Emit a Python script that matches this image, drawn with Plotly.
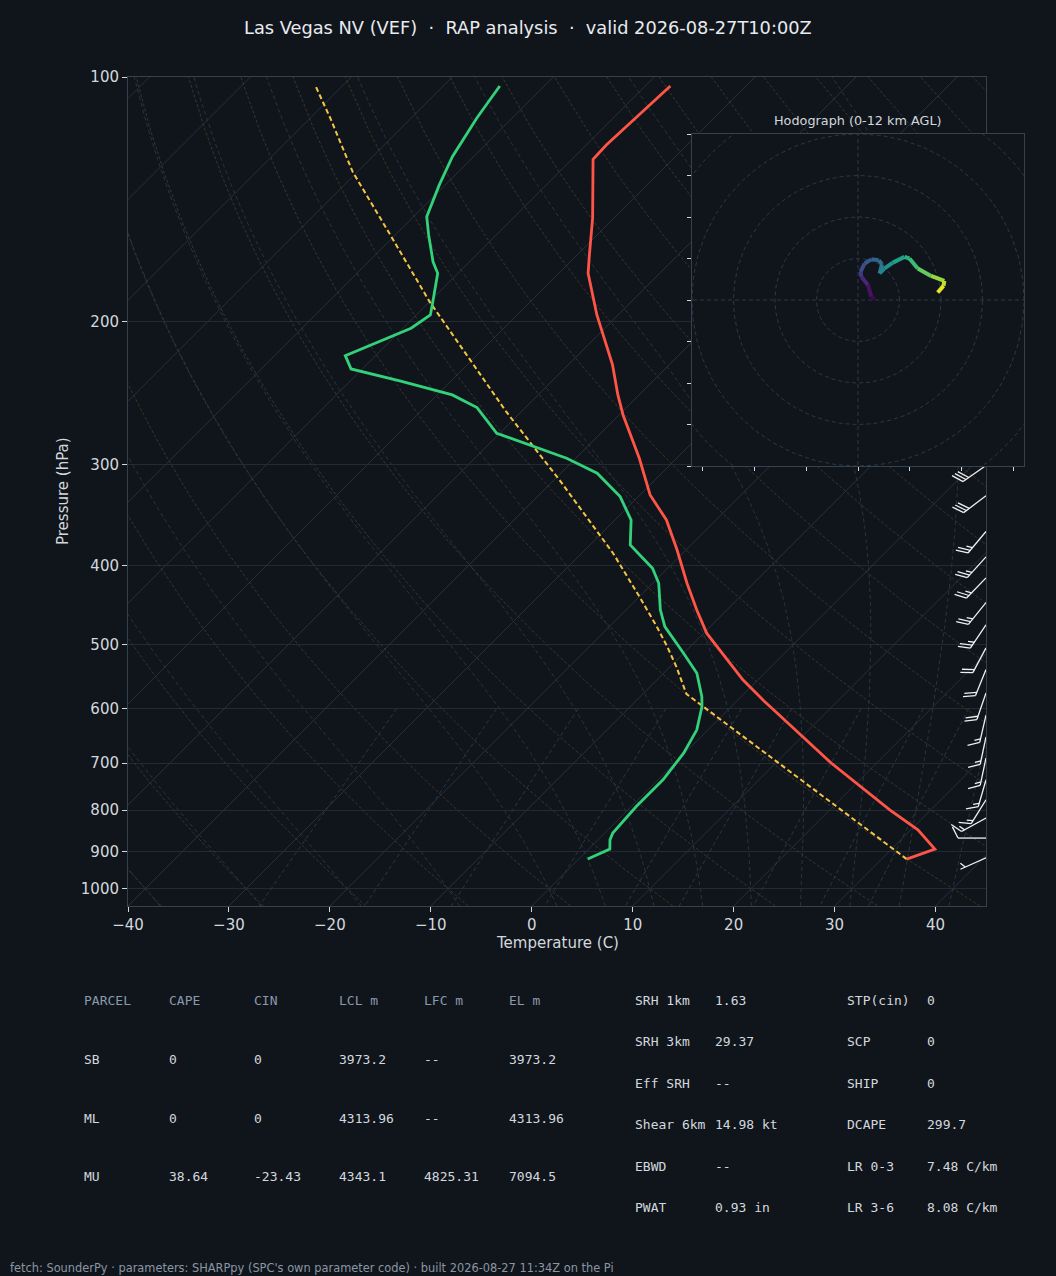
import numpy as np
import plotly.graph_objects as go
from plotly.colors import sample_colorscale

# ---------------------------------------------------------------- data
title_text = "Las Vegas NV (VEF)  \u00b7  RAP analysis  \u00b7  valid 2026-08-27T10:00Z"
footer_text = ("fetch: SounderPy \u00b7 parameters: SHARPpy (SPC's own parameter code) "
               "\u00b7 built 2026-08-27 11:34Z on the Pi")
hodo_title = "Hodograph (0-12 km AGL)"

# environmental temperature (hPa, degC)
temp_p = [102.6, 121.3, 126.3, 149.3, 165.6, 174.5, 196.4, 226.3, 246.4, 260.8,
          294.9, 327.2, 351.3, 382.3, 420.3, 453.3, 484.3, 517.5, 552.7, 587.9,
          600.0, 700.0, 800.0, 845.8, 870.5, 893.6, 919.2]
temp_c = [-67.5, -68.0, -67.9, -62.1, -58.8, -57.1, -52.1, -45.6, -42.1, -39.6,
          -33.7, -29.0, -24.9, -20.9, -16.6, -13.0, -9.7, -5.6, -1.5, 2.8,
          4.3, 15.5, 26.0, 30.7, 32.6, 34.3, 32.5]

# dewpoint (hPa, degC)
dewp_p = [102.6, 112.4, 125.3, 135.8, 148.6, 156.5, 168.9, 174.5, 190.9, 196.4,
          203.9, 220.4, 228.9, 236.8, 246.4, 255.4, 274.7, 294.9, 307.6, 328.8,
          351.3, 377.2, 402.8, 420.3, 453.3, 475.3, 512.7, 542.6, 579.7, 596.3,
          637.1, 680.6, 734.1, 792.0, 853.8, 870.5, 893.6, 919.2]
dewp_c = [-84.4, -83.5, -82.1, -80.6, -78.7, -76.7, -73.6, -72.0, -69.4, -68.6,
          -69.2, -73.0, -71.1, -65.1, -58.5, -54.8, -50.3, -40.9, -36.4, -31.8,
          -28.4, -26.0, -21.5, -19.4, -16.6, -14.5, -10.0, -6.7, -3.9, -2.9,
          -1.1, -0.1, 0.5, 0.5, 0.8, 1.2, 2.1, 0.9]

# surface-based parcel trace (hPa, degC)
parcel_p = [919.2, 575.3, 532.4, 502.9, 475.3, 436.5, 386.0, 357.9, 313.4, 258.4,
            222.1, 189.1, 156.5, 130.8, 112.4, 102.9]
parcel_c = [32.5, -5.7, -9.4, -12.3, -15.3, -20.0, -26.9, -31.5, -39.5, -51.5,
            -60.5, -70.0, -80.5, -90.5, -98.0, -102.5]

# wind barbs (hPa, direction deg, speed kt)
barb_p = [301, 328, 363, 390, 414, 444, 473, 505, 537, 574, 611, 650, 690, 734,
          777, 818, 866, 916]
barb_dir = [235, 233, 220, 222, 224, 219, 214, 208, 202, 199, 193, 192, 192, 196,
            212, 241, 270, 246]
barb_kt = [30, 30, 25, 25, 25, 25, 25, 20, 20, 20, 15, 15, 15, 15, 15, 15, 10, 5]

# hodograph (km AGL, u, v)
hodo_km = [0.0, 0.3, 0.9, 1.6, 2.4, 3.0, 3.5, 4.0, 4.5, 5.2, 5.7, 6.3, 7.2, 7.8,
           8.6, 9.6, 10.6, 11.2, 12.0]
hodo_u = [4.0, 3.2, 2.4, 0.8, 0.6, 1.6, 3.2, 5.0, 5.8, 5.2, 6.4, 8.4, 11.2, 12.4,
          14.4, 17.6, 20.8, 20.6, 19.2]
hodo_v = [0.2, 0.8, 3.6, 5.6, 6.8, 8.8, 9.8, 9.6, 8.6, 6.4, 7.6, 9.0, 10.4, 10.0,
          7.6, 5.8, 4.6, 3.4, 1.8]

pressure_ticks = [100, 200, 300, 400, 500, 600, 700, 800, 900, 1000]
temp_ticks = [-40, -30, -20, -10, 0, 10, 20, 30, 40]
hodo_xticks = [-37.5, -25, -12.5, 0, 12.5, 25, 37.5]
hodo_yticks = [-40, -30, -20, -10, 0, 10, 20, 30, 40]
hodo_rings = [10, 20, 30, 40, 50]

parcel_header = ["PARCEL", "CAPE", "CIN", "LCL m", "LFC m", "EL m"]
parcel_rows = [["SB", "0", "0", "3973.2", "--", "3973.2"],
               ["ML", "0", "0", "4313.96", "--", "4313.96"],
               ["MU", "38.64", "-23.43", "4343.1", "4825.31", "7094.5"]]
kin_labels = ["SRH 1km", "SRH 3km", "Eff SRH", "Shear 6km", "EBWD", "PWAT"]
kin_values = ["1.63", "29.37", "--", "14.98 kt", "--", "0.93 in"]
comp_labels = ["STP(cin)", "SCP", "SHIP", "DCAPE", "LR 0-3", "LR 3-6"]
comp_values = ["0", "0", "0", "299.7", "7.48 C/km", "8.08 C/km"]

# ---------------------------------------------------------------- style / geometry
OFF = 8                                     # page body margin of the browser
W, H = 1056 - OFF, 1276 - OFF               # figure size
X0, X1, Y0, Y1 = 128, 986, 77, 906          # main plot box (window px)
HX0, HX1, HY0, HY1 = 692, 1024, 134, 466    # hodograph box (window px)
BG = "#10151c"
TEXT = "#d3d8de"
HEAD = "#8a99ab"
SPINE = "#36414e"
GRID = "#232a33"
RED = "#ff5546"
GREEN = "#33d17a"
YELLOW = "#f5c542"
FONT = "DejaVu Sans"
MONO = "DejaVu Sans Mono"

T_MIN, T_MAX = -40.0, 45.0
P_BOT, P_TOP = 1050.0, 100.0
LOGSPAN = np.log10(P_BOT / P_TOP)
PX_T = (X1 - X0) / (T_MAX - T_MIN)        # px per degC
PX_DEC = (Y1 - Y0) / LOGSPAN              # px per decade of pressure
SKEW = (Y1 - Y0) / PX_T                   # 45 degree skew in pixel space


def fx(px):
    return (px - OFF) / W


def fy(py):
    return 1 - (py - OFF) / H


def yfrac(p):
    return (np.log10(P_BOT) - np.log10(np.asarray(p, float))) / LOGSPAN


def skx(t, p):
    return np.asarray(t, float) + SKEW * yfrac(p)


def joined(lines):
    xs, ys = [], []
    for x, y in lines:
        xs += [None if not np.isfinite(v) else float(v) for v in x] + [None]
        ys += [float(v) for v in y] + [None]
    return xs, ys


fig = go.Figure()

# ---------------------------------------------------------------- background lines
RD, CP, LV, EPS = 287.04749, 1004.6662, 2.50084e6, 0.6219569

# isotherms
iso = []
for t in range(-150, 50, 10):
    pp = np.array([P_BOT, P_TOP])
    iso.append((skx([t, t], pp), pp))
x, y = joined(iso)
fig.add_trace(go.Scatter(x=x, y=y, mode="lines", line=dict(color="#28303a", width=1),
                         hoverinfo="skip"))

# dry adiabats
pp = np.linspace(P_BOT, P_TOP, 60)
dry = []
for t0 in np.arange(-40, 246, 10):
    tt = (t0 + 273.15) * (pp / 1000.0) ** (RD / CP) - 273.15
    dry.append((skx(tt, pp), pp))
x, y = joined(dry)
fig.add_trace(go.Scatter(x=x, y=y, mode="lines",
                         line=dict(color="#3d3427", width=1, dash="3px,2px"),
                         hoverinfo="skip"))


# moist adiabats
def _f(p, tk):
    e = 6.112 * np.exp(17.67 * (tk - 273.15) / (tk - 29.65))
    rs = EPS * e / np.maximum(p - e, 1e-3)
    return (RD * tk + LV * rs) / (CP + LV * LV * rs * EPS / (RD * tk * tk)) / p


def _integrate(t0k, pgrid):
    tk = t0k.copy()
    out = [tk.copy()]
    for i in range(len(pgrid) - 1):
        p = pgrid[i]
        h = pgrid[i + 1] - p
        k1 = _f(p, tk)
        k2 = _f(p + h / 2, tk + h * k1 / 2)
        k3 = _f(p + h / 2, tk + h * k2 / 2)
        k4 = _f(p + h, tk + h * k3)
        tk = tk + h * (k1 + 2 * k2 + 2 * k3 + k4) / 6
        out.append(tk.copy())
    return np.array(out)


moist_t0 = np.concatenate((np.arange(-40, 0, 10), np.arange(0, 96, 5))).astype(float)
with np.errstate(all="ignore"):
    up_p = np.linspace(1000, P_TOP, 451)
    dn_p = np.linspace(1000, P_BOT, 26)
    up = _integrate(moist_t0 + 273.15, up_p)
    dn = _integrate(moist_t0 + 273.15, dn_p)
m_p = np.concatenate([dn_p[::-1], up_p[1:]])
m_t = np.concatenate([dn[::-1], up[1:]]) - 273.15
moist = [(skx(m_t[:, j], m_p), m_p) for j in range(len(moist_t0))]
x, y = joined(moist)
fig.add_trace(go.Scatter(x=x, y=y, mode="lines",
                         line=dict(color="#26343f", width=1, dash="4px,3px"),
                         hoverinfo="skip"))

# mixing-ratio lines
mix = []
pm = np.linspace(600, P_BOT, 50)
for w in [0.0004, 0.001, 0.002, 0.004, 0.007, 0.01, 0.016, 0.024, 0.032]:
    e = pm * w / (EPS + w)
    lg = np.log(e / 6.112)
    td = 243.5 * lg / (17.67 - lg)
    mix.append((skx(td, pm), pm))
x, y = joined(mix)
fig.add_trace(go.Scatter(x=x, y=y, mode="lines",
                         line=dict(color="#263844", width=1, dash="4px,3px"),
                         hoverinfo="skip"))

# ---------------------------------------------------------------- profiles
fig.add_trace(go.Scatter(x=skx(parcel_c, parcel_p), y=parcel_p, mode="lines",
                         line=dict(color=YELLOW, width=2, dash="5px,3px"),
                         hoverinfo="skip"))
fig.add_trace(go.Scatter(x=skx(dewp_c, dewp_p), y=dewp_p, mode="lines",
                         line=dict(color=GREEN, width=2.8), hoverinfo="skip"))
fig.add_trace(go.Scatter(x=skx(temp_c, temp_p), y=temp_p, mode="lines",
                         line=dict(color=RED, width=2.8), hoverinfo="skip"))


# ---------------------------------------------------------------- wind barbs
def barb_lines(p0, wdir, spd):
    L = 28.0
    sp = 0.125 * L
    hgt = 0.4 * L
    th = np.radians(wdir)
    d = np.array([np.sin(th), np.cos(th)])      # toward where wind comes from
    n = np.array([d[1], -d[0]])
    spd = int(5 * round(spd / 5.0))
    nflag = spd // 50
    rem = spd - 50 * nflag
    nb = rem // 10
    half = (rem - 10 * nb) >= 5
    end = L * d
    segs = [[np.zeros(2), end]]
    off = 0.0
    for _ in range(nflag):
        a = end + off * d
        c = end + (off - 2 * sp) * d
        segs.append([a, a + hgt * n - sp * d, c])
        off -= 2.5 * sp
    for _ in range(nb):
        a = end + off * d
        segs.append([a, a + hgt * n + 0.5 * hgt * d])
        off -= sp
    if half:
        if off == 0:
            off -= 1.5 * sp
        a = end + off * d
        segs.append([a, a + 0.5 * hgt * n + 0.25 * hgt * d])
    out = []
    for seg in segs:
        xs = [T_MAX + q[0] / PX_T for q in seg]
        ys = [10 ** (np.log10(p0) - q[1] / PX_DEC) for q in seg]
        out.append((xs, ys))
    return out


bl = []
for p0, wd, ws in zip(barb_p, barb_dir, barb_kt):
    bl += barb_lines(p0, wd, ws)
x, y = joined(bl)
fig.add_trace(go.Scatter(x=x, y=y, mode="lines", line=dict(color="#eef1f4", width=1.3),
                         hoverinfo="skip"))

# ---------------------------------------------------------------- hodograph inset
R = 40
fig.add_trace(go.Scatter(x=[-R, R, R, -R, -R], y=[-R, -R, R, R, -R], mode="lines",
                         fill="toself", fillcolor=BG, line=dict(width=0),
                         xaxis="x2", yaxis="y2", hoverinfo="skip"))
ang = np.linspace(0, 2 * np.pi, 241)
rings = [(r * np.cos(ang), r * np.sin(ang)) for r in hodo_rings]
rings += [(np.array([-60.0, 60.0]), np.array([0.0, 0.0])),
          (np.array([0.0, 0.0]), np.array([-60.0, 60.0]))]
x, y = joined(rings)
fig.add_trace(go.Scatter(x=x, y=y, mode="lines",
                         line=dict(color="#2c3845", width=1, dash="4px,3px"),
                         xaxis="x2", yaxis="y2", hoverinfo="skip"))
for i in range(len(hodo_km) - 1):
    col = sample_colorscale("Viridis", [(hodo_km[i] + hodo_km[i + 1]) / 2 / 12.0])[0]
    fig.add_trace(go.Scatter(x=hodo_u[i:i + 2], y=hodo_v[i:i + 2], mode="lines",
                             line=dict(color=col, width=4),
                             xaxis="x2", yaxis="y2", hoverinfo="skip"))

# ---------------------------------------------------------------- layout
fig.update_layout(
    width=W, height=H, margin=dict(l=0, r=0, t=0, b=0, pad=0, autoexpand=False),
    paper_bgcolor=BG, plot_bgcolor=BG, showlegend=False, hovermode=False,
    font=dict(family=FONT, color=TEXT),
    xaxis=dict(domain=[fx(X0), fx(X1)], range=[T_MIN, T_MAX], anchor="y",
               showgrid=False, zeroline=False, tickmode="array", tickvals=temp_ticks,
               ticktext=[str(t).replace("-", "\u2212") for t in temp_ticks],
               ticks="outside", ticklen=5, tickcolor=TEXT, tickwidth=1,
               tickfont=dict(size=15, color=TEXT, family=FONT), automargin=False,
               showline=True, mirror=True, linecolor=SPINE, linewidth=1),
    yaxis=dict(domain=[fy(Y1), fy(Y0)], type="log",
               range=[np.log10(P_BOT), np.log10(P_TOP)], anchor="x",
               showgrid=True, gridcolor=GRID, gridwidth=1, zeroline=False,
               tickmode="array", tickvals=pressure_ticks,
               ticktext=[str(p) for p in pressure_ticks], automargin=False,
               ticks="outside", ticklen=5, tickcolor=TEXT, tickwidth=1,
               tickfont=dict(size=15, color=TEXT, family=FONT),
               showline=True, mirror=True, linecolor=SPINE, linewidth=1),
    xaxis2=dict(domain=[fx(HX0), fx(HX1)], range=[-R, R], anchor="y2",
                showgrid=False, zeroline=False, tickmode="array", tickvals=hodo_xticks,
                showticklabels=False, ticks="outside", ticklen=4, tickcolor=TEXT,
                automargin=False,
                showline=True, mirror=True, linecolor=SPINE, linewidth=1),
    yaxis2=dict(domain=[fy(HY1), fy(HY0)], range=[-R, R], anchor="x2",
                showgrid=False, zeroline=False, tickmode="array", tickvals=hodo_yticks,
                showticklabels=False, ticks="outside", ticklen=4, tickcolor=TEXT,
                automargin=False,
                showline=True, mirror=True, linecolor=SPINE, linewidth=1),
)

ann = []


def txt(s, px, py, size, color, family=FONT, xanchor="left", angle=0):
    if xanchor == "left":
        px -= 2          # annotation box padding
    ann.append(dict(text=s, x=fx(px), y=fy(py), xref="paper", yref="paper",
                    xanchor=xanchor, yanchor="middle", showarrow=False,
                    textangle=angle, font=dict(size=size, color=color, family=family)))


txt(title_text, 528, 27, 17.8, "#e8ebef", xanchor="center")
txt(hodo_title, 858, 120, 12.8, TEXT, xanchor="center")
txt("Temperature (C)", 557, 943, 15, TEXT, xanchor="center")
txt("Pressure (hPa)", 63, 491, 15, TEXT, xanchor="center", angle=-90)

col_x = [84, 169, 254, 339, 424, 509]
for cx, h in zip(col_x, parcel_header):
    txt(h, cx, 1000, 13, HEAD, family=MONO)
for ry, row in zip([1059, 1118, 1176], parcel_rows):
    for cx, v in zip(col_x, row):
        txt(v, cx, ry, 13, TEXT, family=MONO)

rows_y = [1000, 1041, 1083, 1124, 1166, 1207]
for ry, a, b, c, d in zip(rows_y, kin_labels, kin_values, comp_labels, comp_values):
    txt(a, 635, ry, 13, TEXT, family=MONO)
    txt(b, 715, ry, 13, TEXT, family=MONO)
    txt(c, 847, ry, 13, TEXT, family=MONO)
    txt(d, 927, ry, 13, TEXT, family=MONO)

txt(footer_text, 10, 1268, 11.4, "#8b96a3")

fig.update_layout(annotations=ann)

fig.write_html("out.html",
               post_script="document.body.style.background='" + BG + "';"
                           "document.documentElement.style.background='" + BG + "';")
